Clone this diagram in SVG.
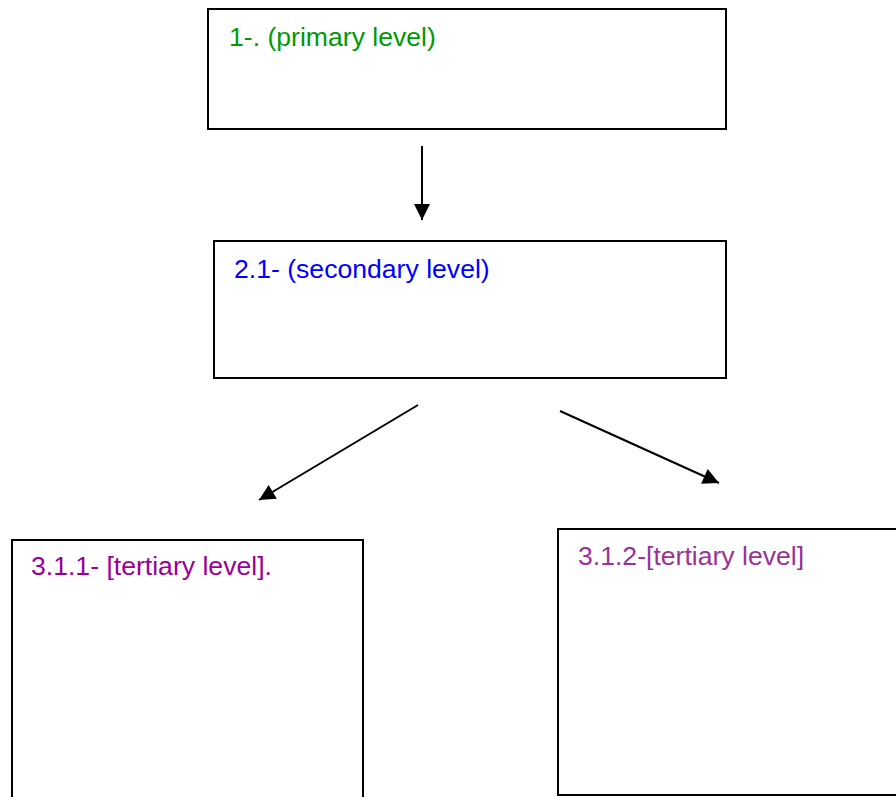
<svg xmlns="http://www.w3.org/2000/svg" width="896" height="797" viewBox="0 0 896 797">
  <style>
    .box { fill: #ffffff; stroke: #000000; stroke-width: 2; }
    .lbl { font-family: "Liberation Sans", Arial, sans-serif; font-size: 26.6px; }
    .edge { stroke: #000000; stroke-width: 2; fill: none; marker-end: url(#head); }
  </style>
  <defs>
    <marker id="head" viewBox="0 0 10 10" refX="10" refY="5" markerWidth="8.5" markerHeight="8" markerUnits="strokeWidth" orient="auto">
      <path d="M0,0 L10,5 L0,10 Z" fill="#000000"/>
    </marker>
  </defs>
  <rect width="896" height="797" fill="#ffffff"/>

  <g id="primary">
    <rect class="box" x="208" y="9" width="518" height="120"/>
    <text class="lbl" x="229" y="46" fill="#009900">1-. (primary level)</text>
  </g>

  <g id="secondary">
    <rect class="box" x="214" y="241" width="512" height="137"/>
    <text class="lbl" x="234" y="278" fill="#0000ff">2.1- (secondary level)</text>
  </g>

  <g id="tertiary-1">
    <rect class="box" x="12" y="540" width="351" height="280"/>
    <text class="lbl" x="31" y="575" fill="#990099">3.1.1- [tertiary level].</text>
  </g>

  <g id="tertiary-2">
    <rect class="box" x="558" y="529" width="360" height="266"/>
    <text class="lbl" x="578" y="565" fill="#993399">3.1.2-[tertiary level]</text>
  </g>

  <g id="connectors">
    <line class="edge" x1="422" y1="146" x2="422" y2="220"/>
    <line class="edge" x1="418" y1="405" x2="259" y2="500"/>
    <line class="edge" x1="560" y1="411" x2="719" y2="483"/>
  </g>
</svg>
